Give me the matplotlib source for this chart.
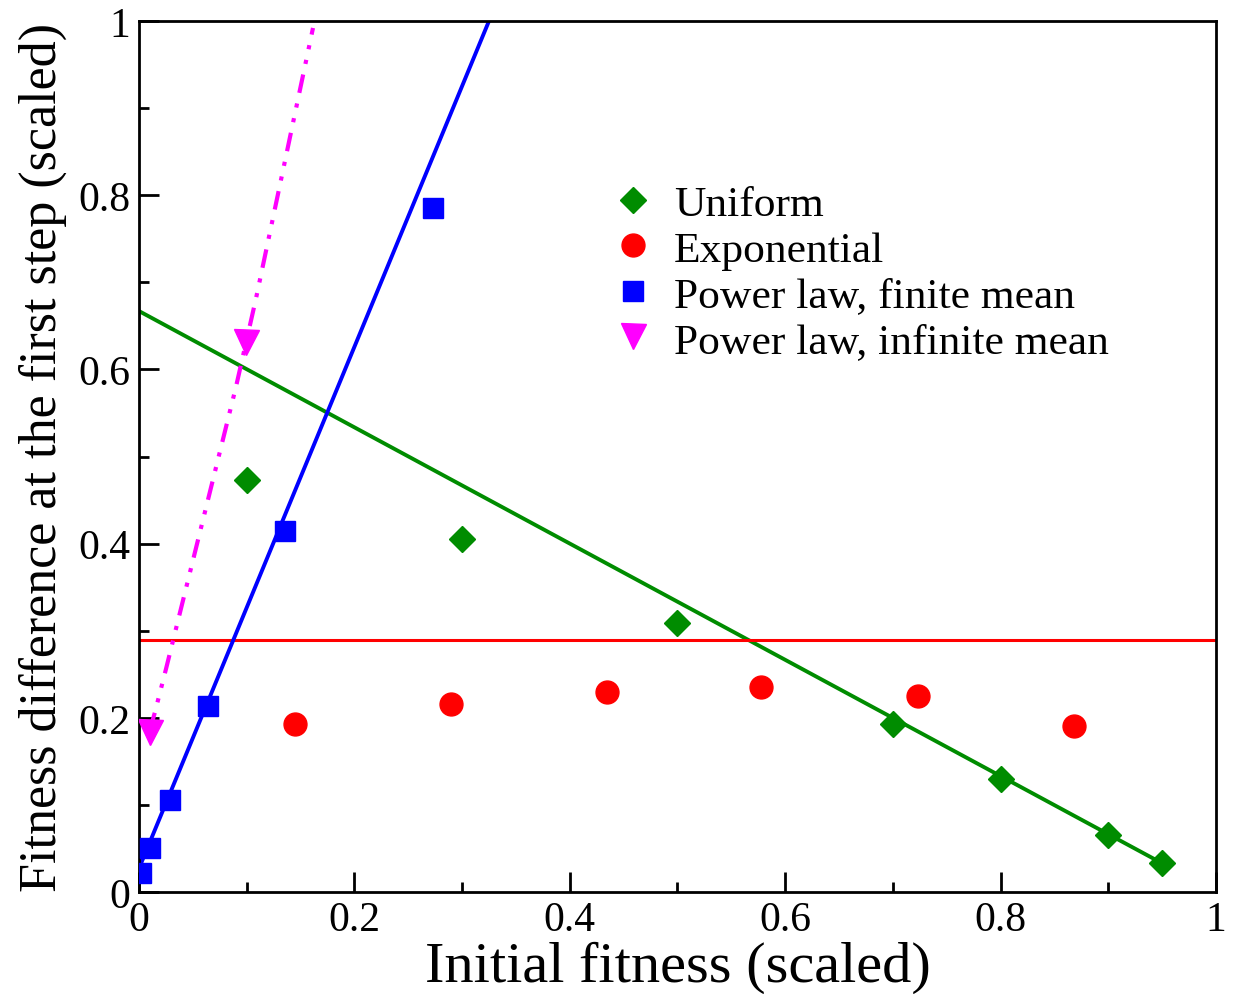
import matplotlib.pyplot as plt
from matplotlib.ticker import MultipleLocator, FixedLocator

plt.rcParams['font.family'] = ['Liberation Serif', 'DejaVu Serif']

# data
uni_x = [0.10, 0.30, 0.50, 0.70, 0.80, 0.90, 0.95]
uni_y = [0.473, 0.405, 0.309, 0.193, 0.130, 0.065, 0.033]
exp_x = [0.145, 0.290, 0.4345, 0.578, 0.723, 0.868]
exp_y = [0.193, 0.216, 0.230, 0.235, 0.225, 0.191]
plf_x = [0.002, 0.010, 0.029, 0.064, 0.136, 0.273]
plf_y = [0.022, 0.050, 0.106, 0.214, 0.414, 0.785]
pli_x = [0.010, 0.0994]
pli_y = [0.184, 0.631]

# theory curves
uni_fit_x = [0.0, 0.95]
uni_fit_y = [0.667, 0.033]
exp_level = 0.289
plf_fit_x = [0.0, 0.325]
plf_fit_y = [0.027, 1.0]
pli_fit_x = [0.010, 0.0149, 0.0251, 0.0901, 0.1086, 0.1616]
pli_fit_y = [0.185, 0.2067, 0.256, 0.580, 0.681, 0.992]

green = '#008c00'

fig = plt.figure(figsize=(12.34, 9.95), dpi=100)
ax = fig.add_axes([0.1126, 0.1025, 0.9854 - 0.1126, 0.9779 - 0.1025])

ax.plot(uni_fit_x, uni_fit_y, color=green, lw=2.8, zorder=2)
ax.axhline(exp_level, color='red', lw=2.2, zorder=2)
ax.plot(plf_fit_x, plf_fit_y, color='blue', lw=2.8, zorder=2)
ax.plot(pli_fit_x, pli_fit_y, color='magenta', lw=3,
        linestyle=(0, (4.5, 2.6, 1, 2.6, 1, 2.6)), dash_capstyle='butt', zorder=2)

ax.plot(uni_x, uni_y, 'D', color=green, ms=13, mec=green, ls='none', label='Uniform', zorder=3)
ax.plot(exp_x, exp_y, 'o', color='red', ms=16.5, mec='red', ls='none', label='Exponential', zorder=3)
ax.plot(plf_x, plf_y, 's', color='blue', ms=14.4, mec='blue', ls='none',
        label='Power law, finite mean', zorder=3)
ax.plot(pli_x, pli_y, 'v', color='magenta', ms=18, mec='magenta', ls='none',
        label='Power law, infinite mean', zorder=3)

ax.set_xlim(0, 1)
ax.set_ylim(0, 1)
ticks = [0, 0.2, 0.4, 0.6, 0.8, 1.0]
labels = ['0', '0.2', '0.4', '0.6', '0.8', '1']
ax.xaxis.set_major_locator(FixedLocator(ticks))
ax.yaxis.set_major_locator(FixedLocator(ticks))
ax.set_xticklabels(labels)
ax.set_yticklabels(labels)
ax.xaxis.set_minor_locator(MultipleLocator(0.1))
ax.yaxis.set_minor_locator(MultipleLocator(0.1))
ax.tick_params(which='both', direction='in', top=False, right=False, width=2, labelsize=30)
ax.tick_params(which='major', length=14.4, pad=6)
ax.tick_params(which='minor', length=7.2)
for s in ax.spines.values():
    s.set_linewidth(2)

ax.set_xlabel('Initial fitness (scaled)', fontsize=42, labelpad=1)
ax.set_ylabel('Fitness difference at the first step (scaled)', fontsize=37.5, labelpad=8)

ax.legend(loc='upper left', bbox_to_anchor=(0.4226, 0.832), frameon=False, fontsize=31.3,
          numpoints=1, handlelength=1.0, handletextpad=0.44, labelspacing=0.14,
          borderaxespad=0)

fig.savefig('out.png', dpi=100)
